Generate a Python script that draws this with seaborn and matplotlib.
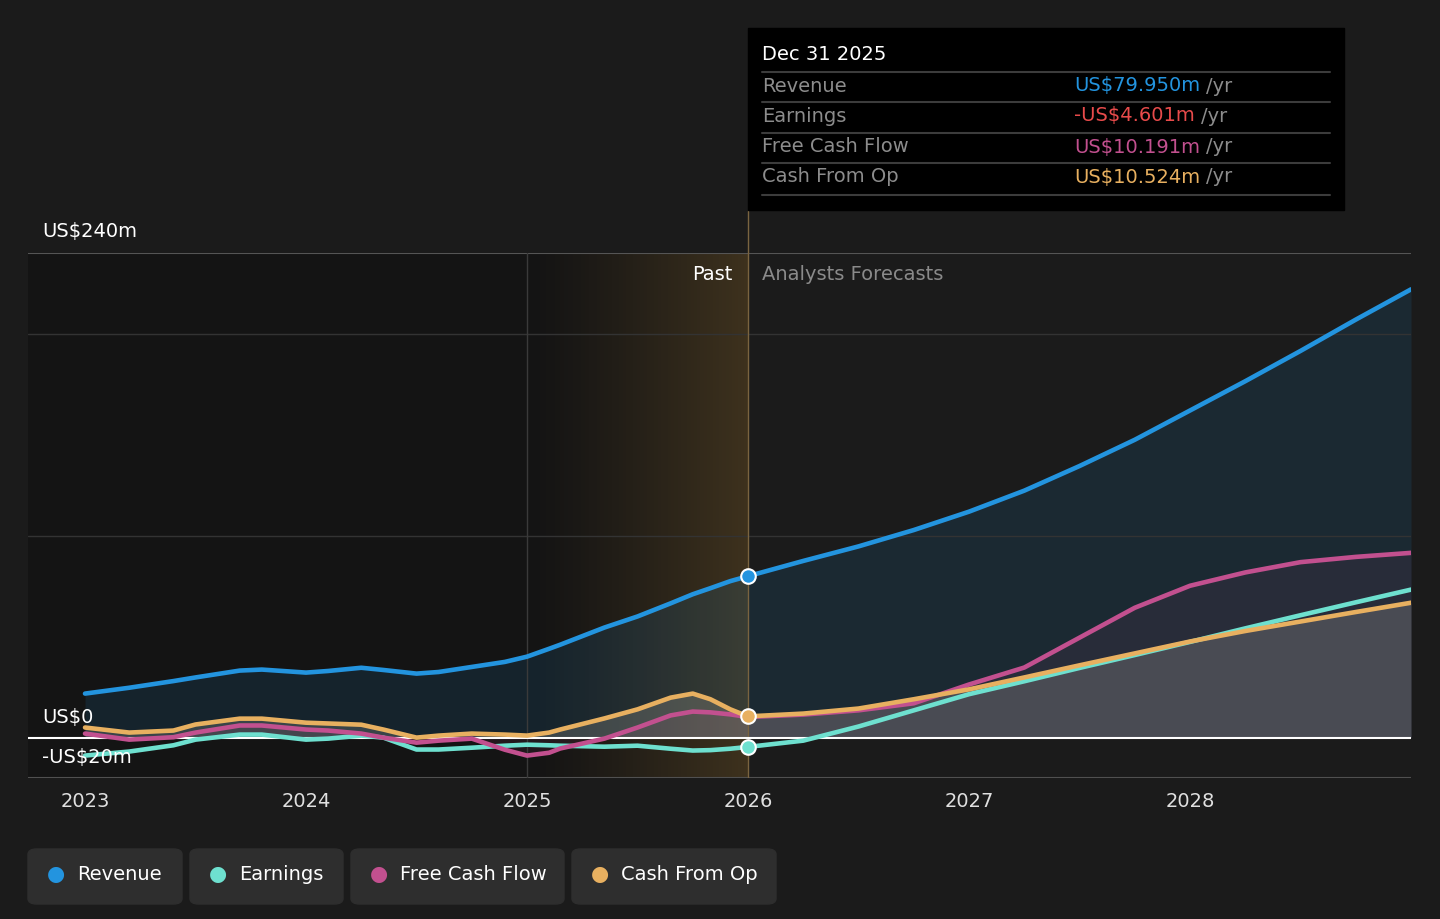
import numpy as np
import pandas as pd
import matplotlib.pyplot as plt
import seaborn as sns
from matplotlib.patches import FancyBboxPatch, Rectangle

# --- data (US$m, x in decimal years) ---
past_x = [2023.0, 2023.2, 2023.4, 2023.5, 2023.7, 2023.8, 2024.0, 2024.1, 2024.25, 2024.35,
          2024.5, 2024.6, 2024.75, 2024.9, 2025.0, 2025.1, 2025.15, 2025.35, 2025.5, 2025.65,
          2025.75, 2025.83, 2025.92, 2026.0]
fc_x = [2026.0, 2026.25, 2026.5, 2026.75, 2027.0, 2027.25, 2027.5, 2027.75, 2028.0,
        2028.25, 2028.5, 2028.75, 2029.0]

revenue_past = [21.8, 24.7, 28.0, 29.8, 33.2, 33.7, 32.2, 33.0, 34.6, 33.5, 31.7, 32.5, 35.0,
                37.5, 40.1, 44.0, 46.0, 54.5, 60.0, 66.5, 71.0, 74.0, 77.5, 79.95]
earnings_past = [-8.9, -6.9, -3.8, -1.0, 1.5, 1.5, -1.0, -0.5, 1.0, 0.0, -5.9, -5.9, -5.0,
                 -4.0, -3.5, -3.8, -4.0, -4.5, -4.0, -5.5, -6.4, -6.2, -5.5, -4.601]
fcf_past = [2.0, -1.0, 0.2, 2.5, 6.0, 6.0, 4.0, 3.5, 2.0, 0.0, -2.5, -1.5, -0.5, -6.0, -8.9,
            -7.5, -5.4, -0.5, 5.0, 11.0, 12.9, 12.5, 11.5, 10.191]
cfo_past = [5.0, 2.5, 3.5, 6.5, 9.4, 9.4, 7.4, 7.0, 6.4, 4.0, 0.0, 1.0, 2.0, 1.5, 1.0, 2.5,
            4.0, 9.5, 14.0, 19.8, 21.8, 19.0, 14.0, 10.524]

revenue_fc = [79.95, 87.5, 94.7, 102.8, 111.9, 122.3, 134.5, 147.5, 162.0, 176.5, 191.5, 207.0, 222.0]
earnings_fc = [-4.601, -1.5, 5.5, 13.5, 21.5, 27.9, 34.5, 40.9, 47.4, 54.1, 60.6, 67.0, 73.3]
fcf_fc = [10.191, 11.4, 13.5, 17.0, 26.3, 34.7, 49.5, 64.3, 75.2, 81.8, 86.9, 89.5, 91.5]
cfo_fc = [10.524, 11.9, 14.4, 19.0, 23.9, 29.8, 35.8, 41.7, 47.6, 52.8, 57.5, 62.2, 66.8]

year_ticks = [2023, 2024, 2025, 2026, 2027, 2028]
series_names = ["Revenue", "Earnings", "Free Cash Flow", "Cash From Op"]
colors = ["#2394df", "#6ee0cf", "#c2508f", "#e8b060"]
tooltip_values = ["US$79.950m", "-US$4.601m", "US$10.191m", "US$10.524m"]
tooltip_colors = ["#2394df", "#e84b4b", "#c2508f", "#e8b060"]

BG = "#1b1b1b"

sns.set_theme(style="dark", rc={"axes.facecolor": BG, "figure.facecolor": BG})
plt.rcParams['font.family'] = ['DejaVu Sans']

x_all = past_x + fc_x[1:]
series = {
    "Revenue": revenue_past + revenue_fc[1:],
    "Earnings": earnings_past + earnings_fc[1:],
    "Free Cash Flow": fcf_past + fcf_fc[1:],
    "Cash From Op": cfo_past + cfo_fc[1:],
}
df = pd.concat([pd.DataFrame({"x": x_all, "value": v, "series": k}) for k, v in series.items()],
               ignore_index=True)

fig = plt.figure(figsize=(14.4, 9.19), dpi=100)
ax = fig.add_axes([28 / 1440, 1 - 778 / 919, (1411 - 28) / 1440, (778 - 253) / 919])
xmin, xmax = 2022.742, 2029.0
ymin, ymax = -20, 240
ax.set_xlim(xmin, xmax)
ax.set_ylim(ymin, ymax)

# past region background + highlight gradient
ax.axvspan(xmin, 2026.0, color="#141414", zorder=0, lw=0)
grad = np.zeros((2, 256, 4))
grad[..., 0] = 0.78
grad[..., 1] = 0.58
grad[..., 2] = 0.24
grad[..., 3] = np.linspace(0.0, 0.3, 256) ** 1.2
ax.imshow(grad, extent=[2025.0, 2026.0, ymin, ymax], aspect="auto", zorder=0.5,
          interpolation="bilinear")

# area fills
xa = np.array(x_all)
ax.fill_between(xa, series["Revenue"], 0, color="#2394df", alpha=0.12, lw=0, zorder=1)
ax.fill_between(xa, series["Free Cash Flow"], 0, color="#c2508f", alpha=0.08, lw=0, zorder=1)
ax.fill_between(xa, series["Cash From Op"], 0, color="#f0e8d8", alpha=0.17, lw=0, zorder=1)

# grid lines
for gy in [100, 200]:
    ax.axhline(gy, color="#333333", lw=1, zorder=1.5)
ax.axhline(240, color="#555555", lw=1.5, zorder=1.5)
ax.axhline(-20, color="#505050", lw=1.5, zorder=1.5)
ax.axvline(2025.0, color="#3a3a3a", lw=1, zorder=1.5)
ax.axvline(2026.0, color="#7a6440", lw=1, zorder=1.5)
ax.plot([2026.0, 2026.0], [240, 261], color="#7a6440", lw=1, clip_on=False)

sns.lineplot(data=df, x="x", y="value", hue="series", palette=colors, hue_order=series_names,
             lw=3.3, legend=False, ax=ax, zorder=3, estimator=None, sort=False)
for ln in ax.get_lines():
    ln.set_solid_joinstyle("round")
    ln.set_solid_capstyle("round")
ax.axhline(0, color="#ffffff", lw=1.5, zorder=2.5)

# markers at the split
for vals, c in zip([revenue_past, earnings_past, cfo_past], [colors[0], colors[1], colors[3]]):
    ax.scatter([2026.0], [vals[-1]], s=110, color=c, edgecolor="white", lw=1.5, zorder=5)

ax.set_xticks(year_ticks)
ax.set_xticklabels([str(y) for y in year_ticks], color="#e0e0e0", fontsize=14)
ax.tick_params(axis="x", length=6, color="#505050", pad=4, width=1)
ax.set_yticks([])
ax.set_xlabel("")
ax.set_ylabel("")
for s in ax.spines.values():
    s.set_visible(False)


def fx(px):
    return px / 1440


def fy(py):
    return 1 - py / 919


# y labels
fig.text(fx(42), fy(232), "US$240m", color="#ffffff", fontsize=14, va="center")
fig.text(fx(42), fy(718), "US$0", color="#ffffff", fontsize=14, va="center")
fig.text(fx(42), fy(758), "-US$20m", color="#ffffff", fontsize=14, va="center")
fig.text(fx(733), fy(274), "Past", color="#ffffff", fontsize=14, va="center", ha="right")
fig.text(fx(762), fy(274), "Analysts Forecasts", color="#8a8a8a", fontsize=14, va="center")

# tooltip
fig.patches.append(Rectangle((fx(748), fy(210)), fx(1344) - fx(748), fy(28) - fy(210),
                             transform=fig.transFigure, color="#000000", zorder=5))
fig.text(fx(762), fy(55), "Dec 31 2025", color="#ffffff", fontsize=14, va="center", zorder=6)
for ly in [72, 102, 133, 163, 195]:
    fig.add_artist(plt.Line2D([fx(762), fx(1330)], [fy(ly), fy(ly)], color="#3c3c3c", lw=1.5,
                              transform=fig.transFigure, zorder=6))
row_y = [86, 116, 147, 177]
for name, val, c, ry in zip(series_names, tooltip_values, tooltip_colors, row_y):
    fig.text(fx(762), fy(ry), name, color="#8c8c8c", fontsize=14, va="center", zorder=6)
    t = fig.text(fx(1074), fy(ry), val, color=c, fontsize=14, va="center", zorder=6)
    fig.canvas.draw()
    bb = t.get_window_extent()
    fig.text(bb.x1 / 1440 + fx(6), fy(ry), "/yr", color="#8c8c8c", fontsize=14, va="center", zorder=6)

# legend buttons
boxes = [(28, 182), (190, 343), (351, 564), (572, 776)]
for (x0, x1), name, c in zip(boxes, series_names, colors):
    fig.patches.append(FancyBboxPatch((fx(x0), fy(904)), fx(x1) - fx(x0), fy(849) - fy(904),
                                      boxstyle="round,pad=0,rounding_size=0.006",
                                      transform=fig.transFigure, color="#2e2e2e", zorder=1))
    fig.text(fx(x0 + 28), fy(874), "\u25cf", color=c, fontsize=15, va="center", ha="center")
    fig.text(fx(x0 + 49), fy(874), name, color="#ffffff", fontsize=14, va="center")

fig.savefig("out.png", dpi=100, facecolor=BG)
